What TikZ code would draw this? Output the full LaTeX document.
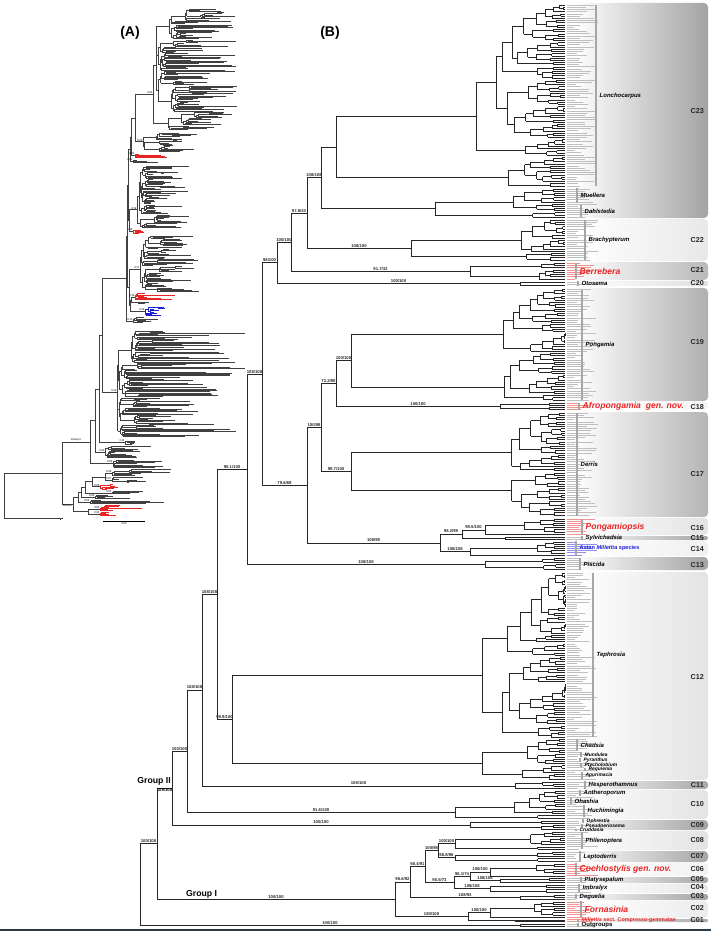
\documentclass[tikz,border=0pt]{standalone}
\usepackage{fontspec}
\setmainfont{Liberation Sans}
\usetikzlibrary{calc,positioning}

\definecolor{hired}{RGB}{232,36,36}
\definecolor{hiblue}{RGB}{30,30,215}
\definecolor{slate}{RGB}{40,58,70}

% clade drawing: tips evenly spread between top and bottom
\newcommand\tipx{565}
\newcommand\setclade[4]{\pgfmathsetmacro\cY{#1}\pgfmathsetmacro\cH{(#2-#1)/#3}\def\cCol{#4}}

% panel B (cladogram, tips aligned at \tipx)
\newcommand\bsub[3]{%
  \begingroup
  \ifnum#2=#3\relax
    \pgfmathsetmacro\ty{\cY+(#2+0.5)*\cH}%
    \pgfmathsetmacro\tl{\tipx+9+24*rnd}%
    \draw[br] (#1,\ty) -- (\tipx,\ty);
    \draw[tiplab,\cCol] (\tipx+1.5,\ty) -- (\tl,\ty);
    \xdef\gRet{\ty}%
  \else
    \pgfmathsetmacro\cx{max(#1+5+8*rnd,\tipx-(14+8*rnd)*ln(#3-#2+1))}%
    \pgfmathsetmacro\cx{min(\cx,#1+0.75*(\tipx-#1))}%
    \edef\nxtcall{\noexpand\bnode{\cx}{#2}{#3}}\nxtcall
    \draw[br] (#1,\gRet) -- (\cx,\gRet);
  \fi
  \endgroup}
\newcommand\bnode[3]{%
  \begingroup
  \pgfmathtruncatemacro\ksp{#2+floor((#3-#2)*(0.35+0.55*rnd))}%
  \pgfmathtruncatemacro\ksq{\ksp+1}%
  \edef\nxtcall{\noexpand\bsub{#1}{#2}{\ksp}}\nxtcall
  \let\ya\gRet
  \edef\nxtcall{\noexpand\bsub{#1}{\ksq}{#3}}\nxtcall
  \let\yb\gRet
  \draw[br] (#1,\ya) -- (#1,\yb);
  \pgfmathsetmacro\ym{(\ya+\yb)/2}%
  \xdef\gRet{\ym}%
  \endgroup}
\newcommand\bclade[6]{%
  \setclade{#2}{#3}{#4}{#6}\pgfmathtruncatemacro\nlast{#4-1}%
  \edef\nxtcall{\noexpand\bnode{#5}{0}{\nlast}}\nxtcall
  \coordinate (#1) at (#5,\gRet);}

% panel A (phylogram, ragged tips)
\newcommand\asub[3]{%
  \begingroup
  \ifnum#2=#3\relax
    \pgfmathsetmacro\ty{\cY+(#2+0.5)*\cH}%
    \pgfmathsetmacro\tx{#1+(0.1+0.9*rnd^1.5)*max(\areach-#1,3)}%
    \draw[abr,\cCol] (#1,\ty) -- (\tx,\ty);
    \xdef\gRet{\ty}%
  \else
    \pgfmathsetmacro\cx{#1+0.5+2.5*rnd+(rnd<0.12)*12}%
    \pgfmathsetmacro\cx{min(\cx,#1+0.5*max(\areach-#1,2))}%
    \edef\nxtcall{\noexpand\anode{\cx}{#2}{#3}}\nxtcall
    \draw[abr,\cCol] (#1,\gRet) -- (\cx,\gRet);
  \fi
  \endgroup}
\newcommand\anode[3]{%
  \begingroup
  \pgfmathtruncatemacro\ksp{#2+floor((#3-#2)*(0.35+0.55*rnd))}%
  \pgfmathtruncatemacro\ksq{\ksp+1}%
  \edef\nxtcall{\noexpand\asub{#1}{#2}{\ksp}}\nxtcall
  \let\ya\gRet
  \edef\nxtcall{\noexpand\asub{#1}{\ksq}{#3}}\nxtcall
  \let\yb\gRet
  \draw[abr,\cCol] (#1,\ya) -- (#1,\yb);
  \pgfmathsetmacro\ym{(\ya+\yb)/2}%
  \xdef\gRet{\ym}%
  \endgroup}
\newcommand\aclade[7]{%
  \setclade{#2}{#3}{#4}{#7}\def\areach{#6}\pgfmathtruncatemacro\nlast{#4-1}%
  \edef\nxtcall{\noexpand\anode{#5}{0}{\nlast}}\nxtcall
  \coordinate (#1) at (#5,\gRet);}

% backbone joins
\newcommand\bbjoin[6]{%
  \path let \p1=(#3), \p2=(#4) in coordinate (#1) at (#2pt,{0.5*(\y1+\y2)});
  \draw[br] (#1 |- #3) -- node[sup]{#5} (#3);
  \draw[br] (#1 |- #4) -- node[sup]{#6} (#4);
  \draw[br] (#1 |- #3) -- (#1 |- #4);}
\newcommand\ajoin[4]{%
  \path let \p1=(#3), \p2=(#4) in coordinate (#1) at (#2pt,{0.5*(\y1+\y2)});
  \draw[abr,black!75] (#1 |- #3) -- (#3) (#1 |- #4) -- (#4) (#1 |- #3) -- (#1 |- #4);}

% shaded clade boxes and genus bars
\newcommand\cbox[3]{%
  \pgfmathsetmacro\rr{min(4,(#2-#1)/2.5)}%
  \shade[left color=white,right color=gray!#3,rounded corners=\rr pt] (574,#1) rectangle (708,#2);}
\newcommand\gbarlab[6][gen]{%
  \draw[gbar] (#3,#4) -- (#3,#5);
  \node[#1] (#2) at (#3+3.5,{(#4+#5)/2}) {#6};}

\tikzset{
  br/.style={line width=0.5pt,black!85},
  abr/.style={line width=0.22pt},
  tiplab/.style={line width=0.75pt},
  sup/.style={font=\fontsize{4.2}{4.2}\selectfont\bfseries,above,inner sep=0.6pt},
  gen/.style={font=\fontsize{6}{6}\selectfont\bfseries\itshape,anchor=west,inner sep=0pt},
  gens/.style={gen,font=\fontsize{4.9}{4.9}\selectfont\bfseries\itshape},
  newgen/.style={font=\fontsize{8.6}{8.6}\selectfont\bfseries\itshape,anchor=west,inner sep=0pt,text=hired},
  asian/.style={font=\fontsize{5.6}{5.6}\selectfont\bfseries,anchor=west,inner sep=0pt,text=hiblue},
  comp/.style={font=\fontsize{5.4}{5.4}\selectfont\bfseries,anchor=west,inner sep=0pt,text=hired},
  outg/.style={font=\fontsize{6}{6}\selectfont\bfseries,anchor=west,inner sep=0pt},
  cnum/.style={font=\fontsize{7.2}{7.2}\selectfont\bfseries,anchor=east,inner sep=0pt,text=black!85},
  gbar/.style={line width=1.2pt,gray!70},
  grp/.style={font=\fontsize{8.7}{8.7}\selectfont\bfseries,inner sep=0pt},
  panel/.style={font=\fontsize{14}{14}\selectfont\bfseries},
  ctag/.style={font=\fontsize{2.8}{2.8}\selectfont,inner sep=0.3pt},
}

\begin{document}
\begin{tikzpicture}[x=1pt,y=-1pt]
\pgfmathsetseed{4217}
\useasboundingbox (0,0) rectangle (711,931);

% clade boxes
\cbox{3}{218}{72}
\cbox{219}{261}{18}
\cbox{262}{280}{55}
\cbox{281}{286}{25}
\cbox{288}{401}{62}
\cbox{402}{410}{8}
\cbox{412}{517}{58}
\cbox{518}{535}{22}
\cbox{536}{540}{70}
\cbox{541}{556}{12}
\cbox{557}{570}{72}
\cbox{572}{780}{22}
\cbox{781}{789}{68}
\cbox{790}{819}{22}
\cbox{820}{830}{72}
\cbox{831}{850}{22}
\cbox{851}{862}{70}
\cbox{863}{876}{10}
\cbox{877}{883}{68}
\cbox{884}{893}{18}
\cbox{894}{900}{72}
\cbox{901}{918}{15}
\cbox{919}{922}{68}

% (B) clades
\bclade{Lon}{4}{187}{83}{336}{gray!50}
\bclade{MD}{188}{218}{14}{435}{gray!50}
\bclade{C22}{219}{261}{19}{411}{gray!50}
\bclade{C21}{262}{280}{8}{470}{hired!50}
\bclade{C20}{281}{286}{2}{520}{gray!50}
\bclade{C19}{288}{401}{51}{351}{gray!50}
\bclade{C18}{402}{410}{4}{500}{hired!50}
\bclade{C17}{412}{516}{47}{351}{gray!50}
\bclade{C16}{518}{535}{8}{485}{hired!50}
\bclade{C15}{536}{540}{2}{505}{gray!50}
\bclade{C14}{541}{556}{7}{470}{hiblue!50}
\bclade{C13}{557}{570}{6}{485}{gray!50}
\bclade{C12}{572}{780}{94}{232}{gray!50}
\bclade{C11}{781}{789}{4}{515}{gray!50}
\bclade{C10}{790}{819}{13}{455}{gray!50}
\bclade{C09}{820}{830}{5}{470}{gray!50}
\bclade{C08}{831}{850}{9}{455}{gray!50}
\bclade{C07}{851}{862}{5}{455}{gray!50}
\bclade{C06}{863}{877}{6}{490}{hired!50}
\bclade{C05}{877}{883}{3}{500}{gray!50}
\bclade{C04}{884}{893}{4}{490}{gray!50}
\bclade{C03}{894}{900}{3}{520}{gray!50}
\bclade{C02}{901}{918}{8}{490}{hired!50}
\bclade{C01}{919}{922}{2}{515}{hired!50}
\bclade{Out}{923}{927}{2}{520}{gray!50}

% (B) backbone
\bbjoin{n5}{321}{Lon}{MD}{}{}
\bbjoin{n4}{307}{n5}{C22}{108/108}{108/100}
\bbjoin{n3}{291}{n4}{C21}{97.8/43}{91.7/43}
\bbjoin{n2}{277}{n3}{C20}{100/100}{100/100}
\bbjoin{n9}{336}{C19}{C18}{100/100}{100/100}
\bbjoin{n8}{321}{n9}{C17}{72.2/90}{99.7/100}
\bbjoin{n12}{462}{C16}{C15}{99.5/100}{}
\bbjoin{n11}{440}{n12}{C14}{98.2/99}{108/108}
\bbjoin{n7}{307}{n8}{n11}{100/98}{108/99}
\bbjoin{n1}{262}{n2}{n7}{98/100}{79.6/69}
\bbjoin{n0}{247}{n1}{C13}{108/108}{108/108}
\bbjoin{nA}{217}{n0}{C12}{90.1/100}{99.9/100}
\bbjoin{nC}{202}{nA}{C11}{108/108}{108/108}
\bbjoin{nE}{187}{nC}{C10}{108/108}{91.6/100}
\bbjoin{nG}{172}{nE}{C09}{100/100}{100/100}
\bbjoin{g6}{470}{C06}{C05}{100/100}{108/108}
\bbjoin{g5}{454}{g6}{C04}{96.1/74}{108/108}
\bbjoin{g4}{438}{C08}{C07}{100/100}{98.8/96}
\bbjoin{g3}{425}{g4}{g5}{100/98}{90.5/73}
\bbjoin{g1}{410}{g3}{C03}{98.4/91}{108/93}
\bbjoin{g2}{468}{C02}{C01}{100/100}{}
\bbjoin{gI}{395}{g1}{g2}{98.6/92}{180/100}
\bbjoin{nR}{157}{nG}{gI}{}{100/100}
\bbjoin{rt}{140}{nR}{Out}{100/108}{100/100}
\path (nR |- nG) -- node[sup,below] (lab109) {109/100} (nG);
\node[grp,above left=2pt and 1pt] (grpII) at (nG) {Group II};
\node[grp,above right=1pt and 29pt] (grpI) at (nR |- gI) {Group I};

% (A) clades
\aclade{a23}{8}{130}{98}{153}{240}{black!75}
\aclade{a22}{132}{152}{16}{143}{205}{black!75}
\aclade{a21}{153}{158}{4}{135}{172}{hired}
\aclade{a20}{159}{163}{3}{133}{160}{black!75}
\aclade{a19}{165}{228}{50}{137}{190}{black!75}
\aclade{a18}{229}{234}{4}{133}{157}{hired}
\aclade{a17}{235}{292}{46}{140}{200}{black!75}
\aclade{a16}{293}{300}{6}{135}{175}{hired}
\aclade{a15}{301}{304}{2}{138}{165}{black!75}
\aclade{a14}{306}{316}{8}{145}{168}{hiblue}
\aclade{a13}{317}{323}{5}{133}{170}{black!75}
\aclade{a12}{330}{437}{86}{117}{245}{black!75}
\aclade{a11}{440}{445}{4}{125}{136}{black!75}
\aclade{a10}{446}{458}{10}{105}{155}{black!75}
\aclade{a09}{459}{468}{7}{113}{178}{black!75}
\aclade{a08}{469}{476}{6}{112}{190}{black!75}
\aclade{a07}{477}{483}{5}{112}{150}{black!75}
\aclade{a06}{484}{490}{5}{100}{120}{hired}
\aclade{a05}{491}{494}{3}{112}{148}{black!75}
\aclade{a04}{495}{499}{4}{95}{135}{black!75}
\aclade{a03}{500}{504}{4}{90}{165}{black!75}
\aclade{a02}{505}{511}{6}{100}{148}{hired}
\aclade{a01}{512}{516}{4}{100}{118}{hired}
\aclade{aout}{517}{520}{2}{60}{66}{black!75}

% (A) backbone
\ajoin{ta}{135}{a23}{a22}
\ajoin{tb}{131}{ta}{a21}
\ajoin{tc}{130}{tb}{a20}
\ajoin{td}{129}{a19}{a18}
\ajoin{te}{128}{tc}{td}
\ajoin{tf}{131}{a16}{a15}
\ajoin{tg}{130}{tf}{a14}
\ajoin{th}{129}{a17}{tg}
\ajoin{ti}{127}{te}{th}
\ajoin{tj}{126}{ti}{a13}
\ajoin{a4}{102}{tj}{a12}
\ajoin{a3}{99}{a4}{a11}
\ajoin{a2}{95}{a3}{a10}
\ajoin{a1}{90}{a2}{a09}
\ajoin{b1}{105}{a08}{a07}
\ajoin{b2}{92}{b1}{a06}
\ajoin{b3}{85}{b2}{a05}
\ajoin{b4}{81}{b3}{a04}
\ajoin{b5}{78}{b4}{a03}
\ajoin{b6}{88}{a02}{a01}
\ajoin{b7}{73}{b5}{b6}
\ajoin{inA}{62}{a1}{b7}
\ajoin{rtA}{4}{inA}{aout}
\foreach \t in {23,22,21,20,19,18,17,16,14,13,12,11,10,09,08,07,06,05,04,03,02,01}
  \node[ctag,anchor=south east] (tag\t) at (a\t) {C\t};
\path (inA |- a1) -- node[ctag,above] (tagII) {Group II} (a1);
\path (inA |- b7) -- node[ctag,below] (tagI) {Group I} (b7);
\coordinate (sb1) at (103,521);
\coordinate (sb2) at (145,521);
\draw[abr] (sb1) -- node[ctag,below=1pt] (sblab) {0.02} (sb2);

% panel letters
\node[panel] (labA) at (130,33) {(A)};
\node[panel] (labB) at (330,33) {(B)};

% genus bars and names
\gbarlab{gLon}{596}{5}{186}{Lonchocarpus}
\gbarlab{gMue}{577}{188}{203}{Muellera}
\gbarlab{gDah}{581}{205}{217}{Dahlstedia}
\gbarlab{gBra}{585}{220}{260}{Brachypterum}
\gbarlab[newgen]{gBer}{576}{263}{279}{Berrebera}
\gbarlab{gOto}{578}{281}{286}{Otosema}
\gbarlab{gPon}{582}{290}{400}{Pongamia}
\gbarlab[newgen]{gAfr}{579}{403}{409}{Afropongamia\ \ gen. nov.}
\gbarlab{gDer}{577}{413}{516}{Derris}
\gbarlab[newgen]{gPgs}{582}{519}{535}{Pongamiopsis}
\gbarlab{gSyl}{582}{536}{540}{Sylvichadsia}
\gbarlab[asian]{gAsi}{576}{541}{556}{Asian \textit{Millettia} species}
\gbarlab{gPis}{580}{558}{570}{Piscida}
\gbarlab{gTep}{593}{573}{737}{Tephrosia}
\gbarlab{gCha}{577}{739}{751}{Chadsia}
\gbarlab[gens]{gMun}{581}{752}{757}{Mundulea}
\gbarlab[gens]{gPyr}{580}{758}{762}{Pyranthus}
\gbarlab[gens]{gPty}{581}{763}{767}{Ptycholobium}
\gbarlab[gens]{gReq}{585}{768}{771}{Requienia}
\gbarlab[gens]{gApu}{582}{772}{779}{Apurimacia}
\gbarlab{gHes}{585}{781}{789}{Hesperothamnus}
\gbarlab{gAnt}{580}{790}{796}{Antheroporum}
\gbarlab{gOha}{571}{798}{804}{Ohashia}
\gbarlab{gHuc}{584}{805}{817}{Huchimingia}
\gbarlab[gens]{gOph}{583}{819}{823}{Ophrestia}
\gbarlab[gens]{gPse}{582}{824}{828}{Pseudoeriosema}
\gbarlab[gens]{gCru}{576}{829}{831}{Cruddasia}
\gbarlab{gPhi}{582}{832}{849}{Philenoptera}
\gbarlab{gLep}{580}{851}{862}{Leptoderris}
\gbarlab[newgen]{gCoc}{576}{863}{876}{Cochlostylis gen. nov.}
\gbarlab{gPla}{581}{877}{882}{Platysepalum}
\gbarlab{gImb}{579}{884}{892}{Imbralyx}
\gbarlab{gDeg}{576}{894}{899}{Deguelia}
\gbarlab[newgen]{gFor}{581}{901}{917}{Fornasinia}
\gbarlab[comp]{gCom}{578}{919}{922}{\textit{Millettia} sect. Compresso-gemmatae}
\gbarlab[outg]{gOut}{578}{923}{927}{Outgroups}

% clade numbers
\foreach \n/\y in {23/111,22/240,21/270,20/283,19/342,18/407,17/474,16/528,15/538,14/549,
  13/565,12/677,11/785,10/804,09/825,08/840,07/856,06/869,05/879,04/887,03/896,02/908,01/920}
  \node[cnum] (c\n) at (704,\y) {C\n};

\fill[slate] (0,928.5) rectangle (711,931);
\end{tikzpicture}
\end{document}
